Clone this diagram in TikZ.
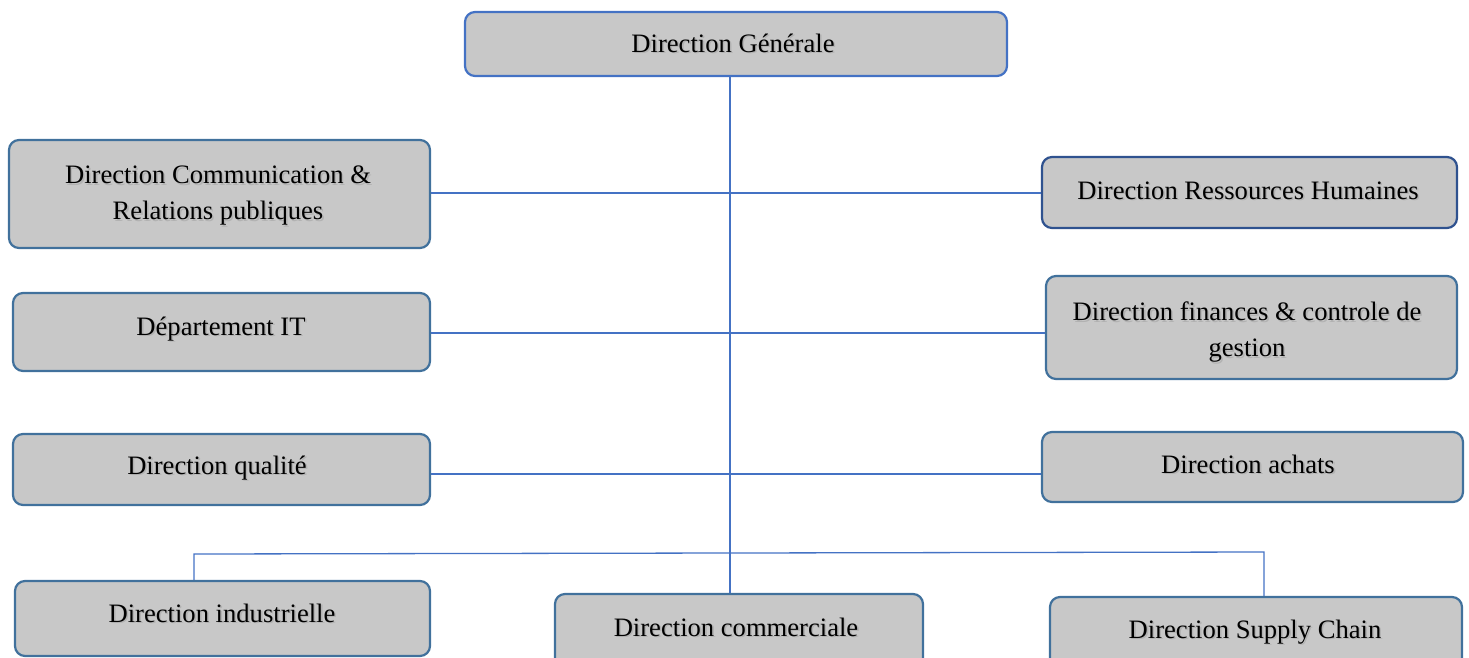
\documentclass[tikz,border=0pt]{standalone}
\usepackage{fontspec}
\setmainfont{Liberation Serif}
\definecolor{boxfill}{HTML}{C8C8C8}
\definecolor{edgeblue}{HTML}{41719C}
\definecolor{edgenavy}{HTML}{2F528F}
\definecolor{edgebright}{HTML}{4472C4}
\definecolor{linkblue}{HTML}{4472C4}
\tikzset{
  orgbox/.style={draw=edgeblue, fill=boxfill, line width=2.2pt, rounded corners=10pt, inner sep=0pt},
  txt/.style={font=\fontsize{26.6}{36}\selectfont, align=center, anchor=base, inner sep=0pt, text=black},
  shadowtxt/.style={txt, text=black!30},
  link/.style={draw=linkblue, line width=1.3pt},
}
% box from corner to corner
\newcommand{\orgbox}[6][]{%
  \node[orgbox,#1, minimum width={(#4)-(#2)}, minimum height={(#5)-(#3)}] (#6) at ({((#2)+(#4))/2},{((#3)+(#5))/2}) {};}
% label with a soft drop shadow (y is the baseline of the last line)
\newcommand{\orglabel}[4]{%
  \node[shadowtxt] at ({#2+1.6},{#3+1.6}) {#4};
  \node[txt] (#1) at (#2,#3) {#4};}
\begin{document}
\begin{tikzpicture}[x=1pt,y=-1pt]
\useasboundingbox (0,0) rectangle (1469,657);

% tap points of the tree
\coordinate (trunk) at (730,554);
\coordinate (ltap) at (194,554);
\coordinate (rtap) at (1264,552);

% boxes
\orgbox[draw=edgebright]{465}{12}{1007}{76}{dg}
\orgbox{9}{140}{430}{248}{comm}
\orgbox[draw=edgenavy]{1042}{157}{1457}{228}{rh}
\orgbox{13}{293}{430}{371}{it}
\orgbox{1046}{276}{1457}{379}{fin}
\orgbox{13}{434}{430}{505}{qual}
\orgbox{1042}{432}{1463}{502}{ach}
\orgbox{15}{581}{430}{656}{ind}
\orgbox{555}{594}{923}{680}{com}
\orgbox{1050}{597}{1462}{680}{sc}

% connectors
\draw[link] (dg.south -| trunk) -- (com.north -| trunk);
\draw[link] ([yshift=1pt]comm.east) -- ([yshift=1pt]comm.east -| rh.west);
\draw[link] ([yshift=-1pt]it.east) -- ([yshift=-1pt]it.east -| fin.west);
\draw[link] ([yshift=-4.5pt]qual.east) -- ([yshift=-4.5pt]qual.east -| ach.west);
\draw[link] (ind.north -| ltap) -- (ltap) -- (rtap) -- (sc.north -| rtap);

% labels
\orglabel{tdg}{733}{52}{Direction Générale}
\orglabel{tcomm}{218}{219.5}{Direction Communication \&\\Relations publiques}
\orglabel{trh}{1248}{199}{Direction Ressources Humaines}
\orglabel{tit}{221}{335}{Département IT}
\orglabel{tfin}{1247}{356.5}{Direction finances \& controle de\\gestion}
\orglabel{tqual}{217}{474}{Direction qualité}
\orglabel{tach}{1248}{473}{Direction achats}
\orglabel{tind}{222}{622}{Direction industrielle}
\orglabel{tcom}{736}{636}{Direction commerciale}
\orglabel{tsc}{1255}{638}{Direction Supply Chain}
\end{tikzpicture}
\end{document}
